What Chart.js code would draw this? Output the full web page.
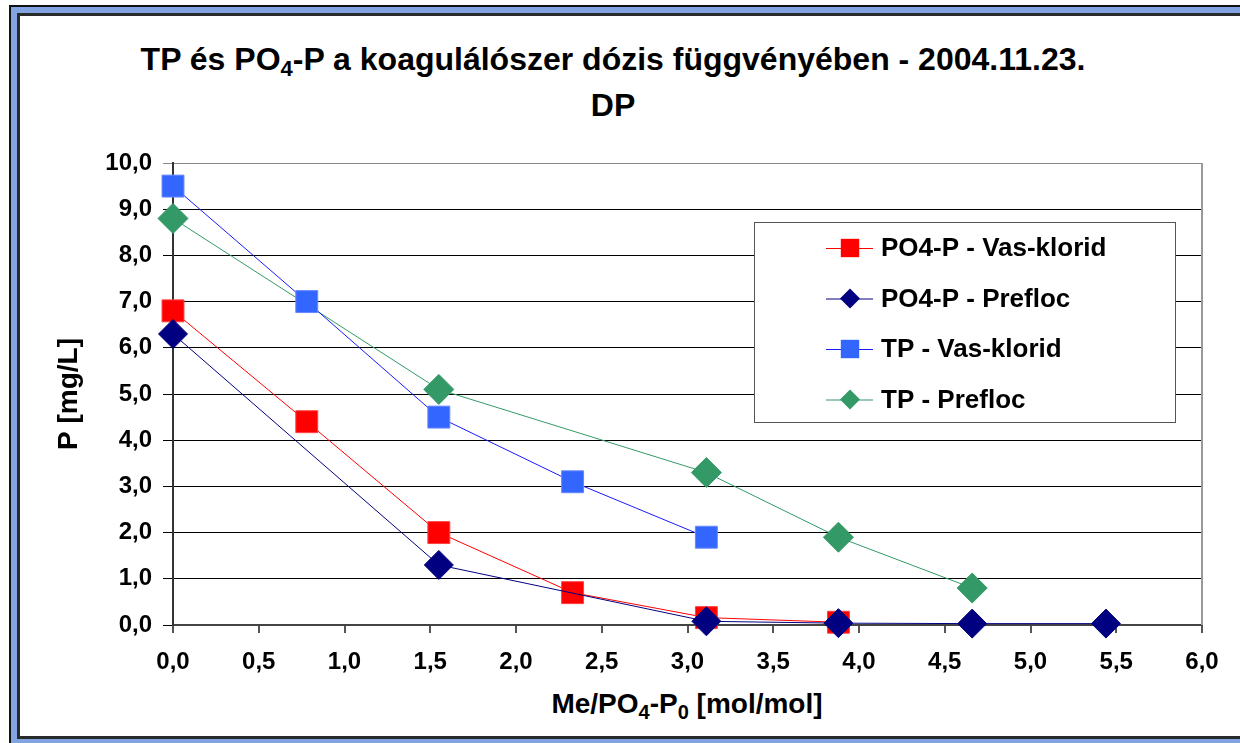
<!DOCTYPE html>
<html>
<head>
<meta charset="utf-8">
<script src="https://cdn.jsdelivr.net/npm/chart.js@4"></script>
<style>
  body { margin: 0; width: 1240px; height: 743px; overflow: hidden; background: #fff;
         font-family: "Liberation Sans", Arial, sans-serif; position: relative; }
  .frame { position: absolute; left: 9px; top: 5px; width: 1300px; height: 800px;
           border: 2px solid #111; background: #82a5e1; }
  .inner { position: absolute; left: 6px; top: 6px; width: 1290px; height: 720px;
           border: 3px solid #2a2a2a; background: #fff; }
  .title { position: absolute; left: 0; top: 38px; width: 1226px; text-align: center;
           font-weight: bold; font-size: 32px; line-height: 43px; color: #000; }
  .xtitle { position: absolute; left: 0; top: 686px; width: 1374px; text-align: center;
            font-weight: bold; font-size: 28px; line-height: 36px; color: #000; }
  .s { font-size: 22px; position: relative; top: 6px; }
  .xtitle .s { font-size: 20px; top: 6px; }
  #chart { position: absolute; left: 0; top: 0; }
</style>
</head>
<body>
<div class="frame"><div class="inner"></div></div>
<div class="title">TP és PO<span class="s">4</span>-P a koagulálószer dózis függvényében - 2004.11.23.<br>DP</div>
<div class="xtitle">Me/PO<span class="s">4</span>-P<span class="s">0</span> [mol/mol]</div>
<canvas id="chart" width="1240" height="743"></canvas>
<script>
// adagok (Me/PO4-P0)
const doseVas = [0, 0.78, 1.55, 2.33, 3.11, 3.88];
const doseTpVas = [0, 0.78, 1.55, 2.33, 3.11];
const dosePrefloc = [0, 1.55, 3.11, 3.88, 4.66, 5.44];
const doseTpPrefloc = [0, 1.55, 3.11, 3.88, 4.66];

// mért P értékek [mg/L]
const po4Vas = [6.8, 4.4, 2.0, 0.7, 0.16, 0.06];
const po4Prefloc = [6.3, 1.3, 0.08, 0.04, 0.03, 0.03];
const tpVas = [9.5, 7.0, 4.5, 3.1, 1.9];
const tpPrefloc = [8.8, 5.1, 3.3, 1.9, 0.8];

const seriesNames = ["PO4-P - Vas-klorid", "PO4-P - Prefloc", "TP - Vas-klorid", "TP - Prefloc"];
const yTicks = [0, 1, 2, 3, 4, 5, 6, 7, 8, 9, 10];
const xTicks = [0, 0.5, 1, 1.5, 2, 2.5, 3, 3.5, 4, 4.5, 5, 5.5, 6];

const FONT = '"Liberation Sans", Arial, sans-serif';

function pts(xs, ys) {
  return xs.map((x, i) => ({ x: x, y: ys[i] }));
}
function comma(v) {
  return Number(v).toFixed(1).replace(".", ",");
}

function marker(ctx, style, x, y, r, color) {
  ctx.fillStyle = color;
  ctx.beginPath();
  if (style === "rect") {
    const s = r * Math.SQRT1_2;
    ctx.rect(x - s, y - s, 2 * s, 2 * s);
  } else {
    ctx.moveTo(x - r, y);
    ctx.lineTo(x, y - r);
    ctx.lineTo(x + r, y);
    ctx.lineTo(x, y + r);
    ctx.closePath();
  }
  ctx.fill();
}

// jelmagyarázat a rajzterületen belül + jobb oldali keret
const insideLegend = {
  id: "insideLegend",
  afterDraw(chart) {
    const ctx = chart.ctx;
    const area = chart.chartArea;
    ctx.save();
    ctx.strokeStyle = "#999";
    ctx.lineWidth = 2;
    ctx.beginPath();
    ctx.moveTo(area.right, area.top);
    ctx.lineTo(area.right, area.bottom);
    ctx.stroke();

    const left = area.right - 448, top = area.top + 59, w = 421, h = 200;
    ctx.fillStyle = "#fff";
    ctx.fillRect(left, top, w, h);
    ctx.strokeStyle = "#555";
    ctx.lineWidth = 1;
    ctx.strokeRect(left + 0.5, top + 0.5, w, h);

    ctx.font = "bold 26px " + FONT;
    ctx.textBaseline = "middle";
    chart.data.datasets.forEach((ds, i) => {
      const y = top + 26 + i * 50.5;
      ctx.strokeStyle = ds.borderColor;
      ctx.lineWidth = 1;
      ctx.beginPath();
      ctx.moveTo(left + 72, y + 0.5);
      ctx.lineTo(left + 119, y + 0.5);
      ctx.stroke();
      marker(ctx, ds.pointStyle, left + 96, y, ds.pointStyle === "rect" ? 13 : 10, ds.pointBackgroundColor);
      ctx.fillStyle = "#000";
      ctx.fillText(ds.label, left + 127, y + 1);
    });
    ctx.restore();
  }
};

new Chart(document.getElementById("chart"), {
  type: "scatter",
  data: {
    datasets: [
      { label: seriesNames[0], data: pts(doseVas, po4Vas), showLine: true, order: 3, clip: false,
        borderColor: "#ff0000", borderWidth: 1, pointStyle: "rect", pointRadius: 15.5,
        pointBackgroundColor: "#ff0000", pointBorderColor: "#ff4040", pointBorderWidth: 1 },
      { label: seriesNames[1], data: pts(dosePrefloc, po4Prefloc), showLine: true, order: 2, clip: false,
        borderColor: "#000080", borderWidth: 1, pointStyle: "rectRot", pointRadius: 14.5,
        pointBackgroundColor: "#000080", pointBorderColor: "#000080", pointBorderWidth: 1 },
      { label: seriesNames[2], data: pts(doseTpVas, tpVas), showLine: true, order: 1, clip: false,
        borderColor: "#1a1aff", borderWidth: 1, pointStyle: "rect", pointRadius: 15.5,
        pointBackgroundColor: "#3366ff", pointBorderColor: "#6688ff", pointBorderWidth: 1 },
      { label: seriesNames[3], data: pts(doseTpPrefloc, tpPrefloc), showLine: true, order: 4, clip: false,
        borderColor: "#339966", borderWidth: 1, pointStyle: "rectRot", pointRadius: 15,
        pointBackgroundColor: "#339966", pointBorderColor: "#339966", pointBorderWidth: 1 }
    ]
  },
  options: {
    responsive: false,
    animation: false,
    layout: { padding: { left: 0, top: 163, right: 38, bottom: 0 } },
    plugins: { legend: { display: false }, tooltip: { enabled: false } },
    scales: {
      x: {
        type: "linear",
        min: 0, max: 6,
        afterBuildTicks: (s) => { s.ticks = xTicks.map(v => ({ value: v })); },
        afterFit: (s) => { s.height = 118; },
        ticks: { callback: comma, color: "#000", padding: 15, maxRotation: 0,
                 font: { family: FONT, size: 24, weight: "bold" } },
        grid: { drawOnChartArea: false, drawTicks: true, tickLength: 8, color: "#555", lineWidth: 2 },
        border: { color: "#444", width: 2 }
      },
      y: {
        min: 0, max: 10,
        afterBuildTicks: (s) => { s.ticks = yTicks.map(v => ({ value: v })); },
        afterFit: (s) => { s.width = 173; },
        ticks: { callback: comma, color: "#000", padding: 11,
                 font: { family: FONT, size: 24, weight: "bold" } },
        grid: { color: (c) => (c.tick && c.tick.value === 10 ? "#888" : "#000"),
                lineWidth: 1, tickLength: 10, drawTicks: true },
        border: { color: "#333", width: 2 },
        title: { display: true, text: "P [mg/L]", color: "#000", padding: { top: 52 },
                 font: { family: FONT, size: 28, weight: "bold" } }
      }
    }
  },
  plugins: [insideLegend]
});
</script>
</body>
</html>
